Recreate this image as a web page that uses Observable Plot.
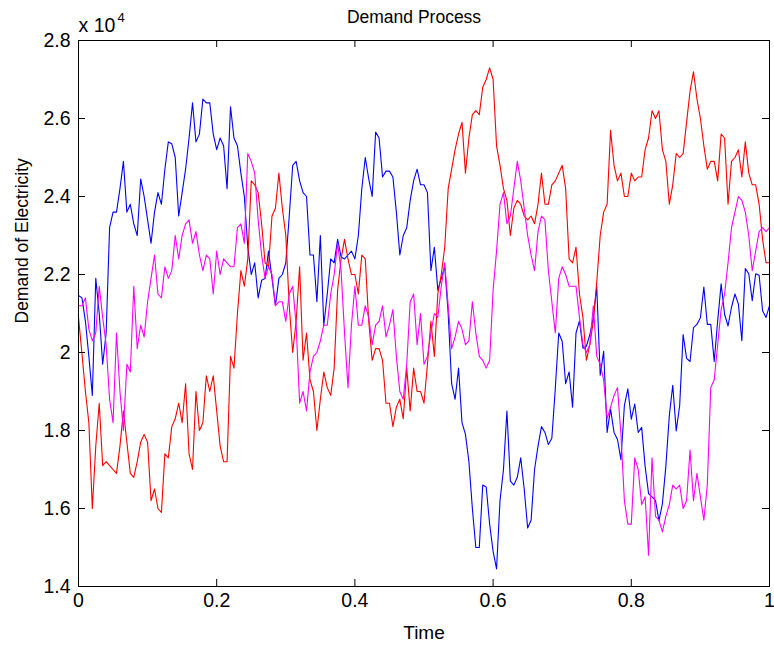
<!DOCTYPE html>
<html><head><meta charset="utf-8">
<script src="https://cdn.jsdelivr.net/npm/d3@7"></script>
<script src="https://cdn.jsdelivr.net/npm/@observablehq/plot@0.6"></script>
<style>html,body{margin:0;padding:0;background:#fff} svg{display:block}</style>
</head><body><div id="chart"></div>
<script>
// Demand of electricity, three simulated paths sampled at 201 equally spaced times on [0,1]
const blue = [
21460,21400,20800,19900,18900,21900,21000,19700,20500,23200,
23600,23600,24200,24900,23600,23800,23300,23000,24450,24000,
23400,22800,23600,24100,23800,24700,25400,25350,25000,23500,
24100,24700,25500,26400,25400,25600,26500,26400,26400,25600,
25200,25500,25300,24200,26300,25500,25300,24600,24000,22700,
22000,22300,21400,21850,21900,22600,21900,21200,21900,22000,
22300,23500,24800,24900,24400,24100,24000,22500,22500,21300,
23000,20700,21500,22400,22300,22900,22450,22400,22500,22600,
22400,23000,24200,25000,24450,24000,25650,25500,24500,24650,
24650,24500,23600,22500,23000,23200,23900,24400,24700,24300,
24300,24100,22100,22700,21600,21900,22200,21000,19200,18800,
19600,18200,17900,17200,16000,15000,15000,16600,16550,15600,
14900,14450,16200,17000,18500,16700,16600,16800,17300,16500,
15500,15700,17000,17600,18100,17950,17640,17800,19070,20500,
20290,19200,19500,18600,20500,20810,20110,20160,20460,20890,
21680,19420,20030,17950,18550,17950,17770,17250,18640,19070,
18290,18680,17950,18080,17080,16380,16300,16210,15690,16120,
17080,18380,19160,17990,18640,20460,19850,19770,20640,20720,
20890,21680,20720,20720,19770,20810,21760,20980,20680,21160,
21500,21240,20300,22150,22020,21330,22020,21980,21070,20900,21200];
const red = [
20900,19970,19000,18200,16000,17600,18700,17100,17200,17100,
17000,16900,17600,18500,17700,16900,16800,17200,17700,17900,
17700,16200,16500,16000,15900,17400,17300,18100,18300,18700,
18200,19200,17400,17000,19000,18000,18200,19400,19000,19400,
18500,17600,17200,17200,19900,19600,21000,22100,21700,22400,
24400,24300,24100,23300,22300,22200,23500,23700,24600,23700,
23000,21200,20000,20800,22200,19800,20500,19300,19000,18000,
18800,19500,19100,18900,19600,21600,22400,22900,22400,22000,
22000,21500,22500,22400,20800,19800,20100,20100,19800,18700,
18700,18100,18600,18800,18300,19600,18500,19600,19000,19000,
18700,19700,20800,19900,21500,22000,22700,24200,24700,25200,
25600,25900,24600,25500,26100,26200,26100,26800,27000,27300,
27000,25300,24800,24200,23900,23000,23700,23900,23800,23500,
23400,23500,23300,23800,24600,23800,23800,24300,24400,24600,
24800,24200,22400,22300,22700,21500,20900,19800,20200,20800,
21800,23000,23600,23800,25700,24800,24400,24600,24000,24000,
24600,24400,24500,24500,25200,25500,26200,26000,26200,25200,
24900,23800,24300,25100,25000,25100,25900,26700,27200,26500,
26000,25300,24700,24900,24900,24400,25600,25500,23800,24900,
25000,25200,24500,25400,24600,24300,24300,23800,22900,22300,22300];
const magenta = [
21200,21200,21400,20600,20300,20500,21700,20900,20200,18800,
18200,20500,19000,18000,19700,19500,21700,20100,20700,20400,
21300,21900,22500,21500,21400,22200,21900,22100,23000,22400,
23000,23300,23400,22800,23100,22500,22100,22500,22400,21500,
22600,22000,22400,22300,22200,22200,23200,23300,22800,25100,
24900,24600,23400,22500,21900,22200,22000,21200,21300,21300,
20800,21500,21700,20700,18700,19000,18500,19500,19900,20000,
20300,20700,20700,21500,22000,22800,22100,20500,19100,20700,
21700,20700,20700,21200,20900,20200,20700,20800,21200,20400,
20700,21100,19900,19000,18800,19700,21300,21500,20200,21000,
19700,19900,20500,21000,20900,21700,22300,21200,20100,20400,
20800,20600,20200,20300,21300,20500,19900,19800,19600,19800,
21600,22600,23800,24100,23300,23500,24200,24900,24400,23700,
23000,22500,22100,23100,23500,23400,22100,21300,20500,21900,
22200,22000,21700,21700,21700,20900,20200,20000,20200,21200,
19900,19700,19300,18300,18600,18900,19100,17900,16200,15600,
15600,17300,17000,16100,16300,14800,17300,15800,15700,15400,
15800,16100,16600,16500,16600,16000,16200,17500,16200,16900,
16300,15700,16600,19100,19300,20200,21100,21500,22300,23200,
23600,24000,23900,23600,23000,22100,22600,23100,23200,23100,23200];

const xTicks = [0, 0.2, 0.4, 0.6, 0.8, 1];
const xTickLabels = ["0", "0.2", "0.4", "0.6", "0.8", "1"];
const yTicks = [14000, 16000, 18000, 20000, 22000, 24000, 26000, 28000];
const yTickLabels = ["1.4", "1.6", "1.8", "2", "2.2", "2.4", "2.6", "2.8"];
const titleText = "Demand Process";
const xLabel = "Time";
const yLabel = "Demand of Electricity";

const series = [
  {name: "path1", color: "#0000ff", values: blue},
  {name: "path2", color: "#ff0000", values: red},
  {name: "path3", color: "#ff00ff", values: magenta}
];
const toRows = s => s.values.map((v, i) => ({t: i / (s.values.length - 1), v}));

const W = 774, H = 646, mL = 78, mR = 5, mT = 40, mB = 60;
const ph = H - mT - mB, pw = W - mL - mR, tk = 7;
const font = "'Liberation Sans', Arial, Helvetica, sans-serif";

const chart = Plot.plot({
  width: W, height: H,
  marginLeft: mL, marginRight: mR, marginTop: mT, marginBottom: mB,
  style: {fontFamily: font, fontSize: "19px", background: "#fff", color: "#000", overflow: "visible"},
  x: {domain: [0, 1]},
  y: {domain: [14000, 28000]},
  marks: [
    ...series.map(s => Plot.line(toRows(s), {x: "t", y: "v", stroke: s.color, strokeWidth: 1.1})),
    Plot.tickX(xTicks, {x: d => d, insetTop: ph - tk, stroke: "#000"}),
    Plot.tickX(xTicks, {x: d => d, insetBottom: ph - tk, stroke: "#000"}),
    Plot.tickY(yTicks, {y: d => d, insetRight: pw - tk, stroke: "#000"}),
    Plot.tickY(yTicks, {y: d => d, insetLeft: pw - tk, stroke: "#000"}),
    Plot.frame({stroke: "#000", strokeWidth: 1}),
    Plot.axisX(xTicks, {tickSize: 0, tickPadding: 7, tickFormat: d => xTickLabels[xTicks.indexOf(d)], label: null, fontSize: 19.5}),
    Plot.axisY(yTicks, {tickSize: 0, tickPadding: 8, tickFormat: d => yTickLabels[yTicks.indexOf(d)], label: null, fontSize: 19.5}),
    Plot.text([titleText], {frameAnchor: "top", dx: -10, dy: -23, lineAnchor: "middle", fontSize: 17.5}),
    Plot.text([xLabel], {frameAnchor: "bottom", dy: 46, lineAnchor: "middle", fontSize: 19}),
    Plot.text([yLabel], {frameAnchor: "left", dx: -56, dy: 10, rotate: -90, lineAnchor: "middle", fontSize: 17.5}),
    Plot.text(["x 10"], {frameAnchor: "top-left", dy: -15, textAnchor: "start", lineAnchor: "middle", fontSize: 19.5}),
    Plot.text(["4"], {frameAnchor: "top-left", dx: 39, dy: -23, textAnchor: "start", lineAnchor: "middle", fontSize: 13})
  ]
});
document.getElementById("chart").appendChild(chart);
</script>
</body></html>
